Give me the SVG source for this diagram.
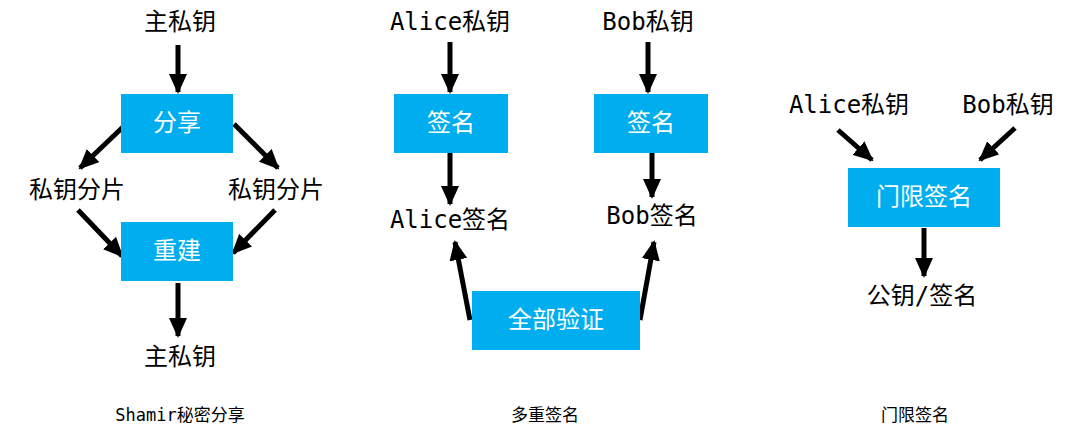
<svg xmlns="http://www.w3.org/2000/svg" width="1080" height="440" viewBox="0 0 1080 440">
<style>
.t{font-family:"DejaVu Sans Mono","Noto Sans CJK SC",monospace;font-size:24px;fill:#000;text-anchor:middle;dominant-baseline:central}
.bt{font-family:"DejaVu Sans Mono","Noto Sans CJK SC",monospace;font-size:24px;fill:#fff;text-anchor:middle;dominant-baseline:central}
.c{font-family:"DejaVu Sans Mono","Noto Sans CJK SC",monospace;font-size:17px;fill:#000;text-anchor:middle;dominant-baseline:central}
.b{fill:#00AEEF}
.a{stroke:#000;stroke-width:5;fill:none;marker-end:url(#ah)}
</style>
<defs>
<marker id="ah" markerUnits="userSpaceOnUse" markerWidth="22" markerHeight="18" refX="18" refY="9" orient="auto">
<path d="M0,0 L20,9 L0,18 z" fill="#000"/>
</marker>
</defs>
<rect width="1080" height="440" fill="#fff"/>
<g id="connectors">
<line class="a" x1="178" y1="45" x2="178" y2="92"/>
<line class="a" x1="124" y1="126" x2="80" y2="168"/>
<line class="a" x1="234" y1="124" x2="278" y2="168"/>
<line class="a" x1="78" y1="210" x2="122" y2="256"/>
<line class="a" x1="275" y1="210" x2="233" y2="253"/>
<line class="a" x1="178" y1="283" x2="178" y2="336"/>
<line class="a" x1="450" y1="42" x2="450" y2="92"/>
<line class="a" x1="648" y1="42" x2="648" y2="92"/>
<line class="a" x1="450" y1="153" x2="450" y2="204"/>
<line class="a" x1="652" y1="153" x2="652" y2="197"/>
<line class="a" x1="470" y1="320" x2="455" y2="242"/>
<line class="a" x1="640" y1="320" x2="654" y2="242"/>
<line class="a" x1="838" y1="130" x2="872" y2="160"/>
<line class="a" x1="1015" y1="128" x2="980" y2="160"/>
<line class="a" x1="924" y1="228" x2="924" y2="276"/>
</g>
<g id="n1"><text class="t" x="180" y="22">主私钥</text></g>
<g id="n2"><rect class="b" x="121" y="94" width="112" height="59"/><text class="bt" x="177" y="123">分享</text></g>
<g id="n3"><text class="t" x="77" y="190">私钥分片</text></g>
<g id="n4"><text class="t" x="276" y="190">私钥分片</text></g>
<g id="n5"><rect class="b" x="121" y="222" width="112" height="59"/><text class="bt" x="177" y="251">重建</text></g>
<g id="n6"><text class="t" x="180" y="357">主私钥</text></g>
<g id="n7"><text class="t" x="450" y="22">Alice私钥</text></g>
<g id="n8"><text class="t" x="648" y="22">Bob私钥</text></g>
<g id="n9"><rect class="b" x="394" y="94" width="114" height="59"/><text class="bt" x="451" y="123">签名</text></g>
<g id="n10"><rect class="b" x="594" y="94" width="114" height="59"/><text class="bt" x="651" y="123">签名</text></g>
<g id="n11"><text class="t" x="450" y="220">Alice签名</text></g>
<g id="n12"><text class="t" x="652" y="216">Bob签名</text></g>
<g id="n13"><rect class="b" x="472" y="291" width="168" height="59"/><text class="bt" x="556" y="320">全部验证</text></g>
<g id="n14"><text class="t" x="849" y="105">Alice私钥</text></g>
<g id="n15"><text class="t" x="1008" y="105">Bob私钥</text></g>
<g id="n16"><rect class="b" x="848" y="168" width="152" height="59"/><text class="bt" x="924" y="197">门限签名</text></g>
<g id="n17"><text class="t" x="922" y="296">公钥/签名</text></g>
<g id="captions">
<text class="c" x="180" y="415">Shamir秘密分享</text>
<text class="c" x="545" y="415">多重签名</text>
<text class="c" x="915" y="415">门限签名</text>
</g>
</svg>
